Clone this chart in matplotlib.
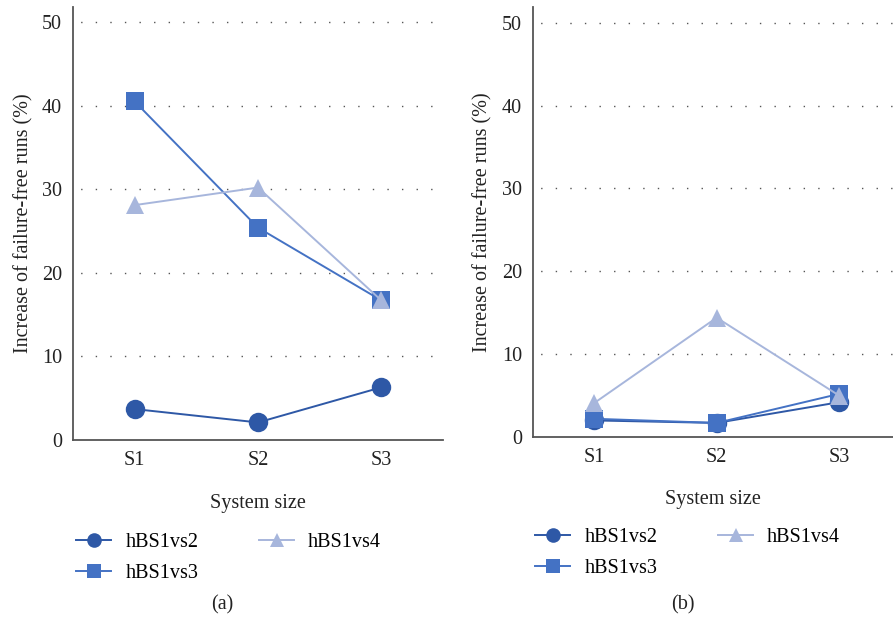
import matplotlib
matplotlib.use("Agg")
import matplotlib.pyplot as plt

plt.rcParams['font.family'] = ['Liberation Serif', 'DejaVu Serif']

categories = ["S1", "S2", "S3"]
series_names = ["hBS1vs2", "hBS1vs3", "hBS1vs4"]
a_vs2 = [3.7, 2.1, 6.3]
a_vs3 = [40.5, 25.4, 16.7]
a_vs4 = [28.1, 30.2, 16.7]
b_vs2 = [2.0, 1.7, 4.2]
b_vs3 = [2.2, 1.7, 5.2]
b_vs4 = [4.1, 14.4, 5.0]
yticks = [0, 10, 20, 30, 40, 50]

colors = ["#2E58A6", "#4472C4", "#A7B6DC"]
markers = ["o", "s", "^"]
msizes = [14, 13.5, 13]
FS = 14.5
TC = "#222222"

fig = plt.figure(figsize=(8.93, 6.27), dpi=100)
ax1 = fig.add_axes([73/893, 1-440/627, 370/893, 433/627])
ax2 = fig.add_axes([533/893, 1-437/627, 360/893, 430/627])

def style(ax, ytop, xright, panel_data):
    x = list(range(len(categories)))
    handles = []
    for vals, c, m, ms, name in zip(panel_data, colors, markers, msizes, series_names):
        h, = ax.plot(x, vals, color=c, marker=m, markersize=ms, linewidth=1.4,
                     label=name, markeredgewidth=0)
        handles.append(h)
    ax.set_xlim(-0.5, xright)
    ax.set_ylim(0, ytop)
    ax.set_xticks(x)
    ax.set_xticklabels(categories)
    ax.set_yticks(yticks)
    ax.tick_params(length=0, labelsize=FS, colors=TC, pad=8)
    ax.tick_params(axis='y', pad=8)
    for s in ["top", "right"]:
        ax.spines[s].set_visible(False)
    for s in ["left", "bottom"]:
        ax.spines[s].set_color("#555555")
        ax.spines[s].set_linewidth(1.3)
    for t in yticks[1:]:
        ax.axhline(t, color="#555555", linewidth=1.0, linestyle=(5, (1, 9.5)), zorder=0)
    ax.set_ylabel("Increase of failure-free runs (%)", fontsize=FS, color=TC)
    ax.set_xlabel("System size", fontsize=FS, color=TC)
    return handles

h1 = style(ax1, 51.8, 2.5, [a_vs2, a_vs3, a_vs4])
h2 = style(ax2, 51.9, 2.44, [b_vs2, b_vs3, b_vs4])
ax1.yaxis.set_label_coords(-0.107, 0.5)
ax2.yaxis.set_label_coords(-0.113, 0.5)
ax1.xaxis.set_label_coords(0.5, -0.125)
ax2.xaxis.set_label_coords(0.5, -0.123)

for h, x0, y0 in [(h1, 58/893, 1-515/627), (h2, 517/893, 1-510/627)]:
    fig.legend(handles=h, labels=series_names, ncol=2, loc="upper left",
               bbox_to_anchor=(x0, y0), frameon=False, fontsize=FS,
               markerscale=0.75, handlelength=1.75, columnspacing=3.0,
               labelspacing=0.6, handletextpad=0.7)

fig.text(222/893, 1-605/627, "(a)", ha="center", va="center", fontsize=FS, color=TC)
fig.text(683/893, 1-605/627, "(b)", ha="center", va="center", fontsize=FS, color=TC)

fig.savefig("out.png", dpi=100)
